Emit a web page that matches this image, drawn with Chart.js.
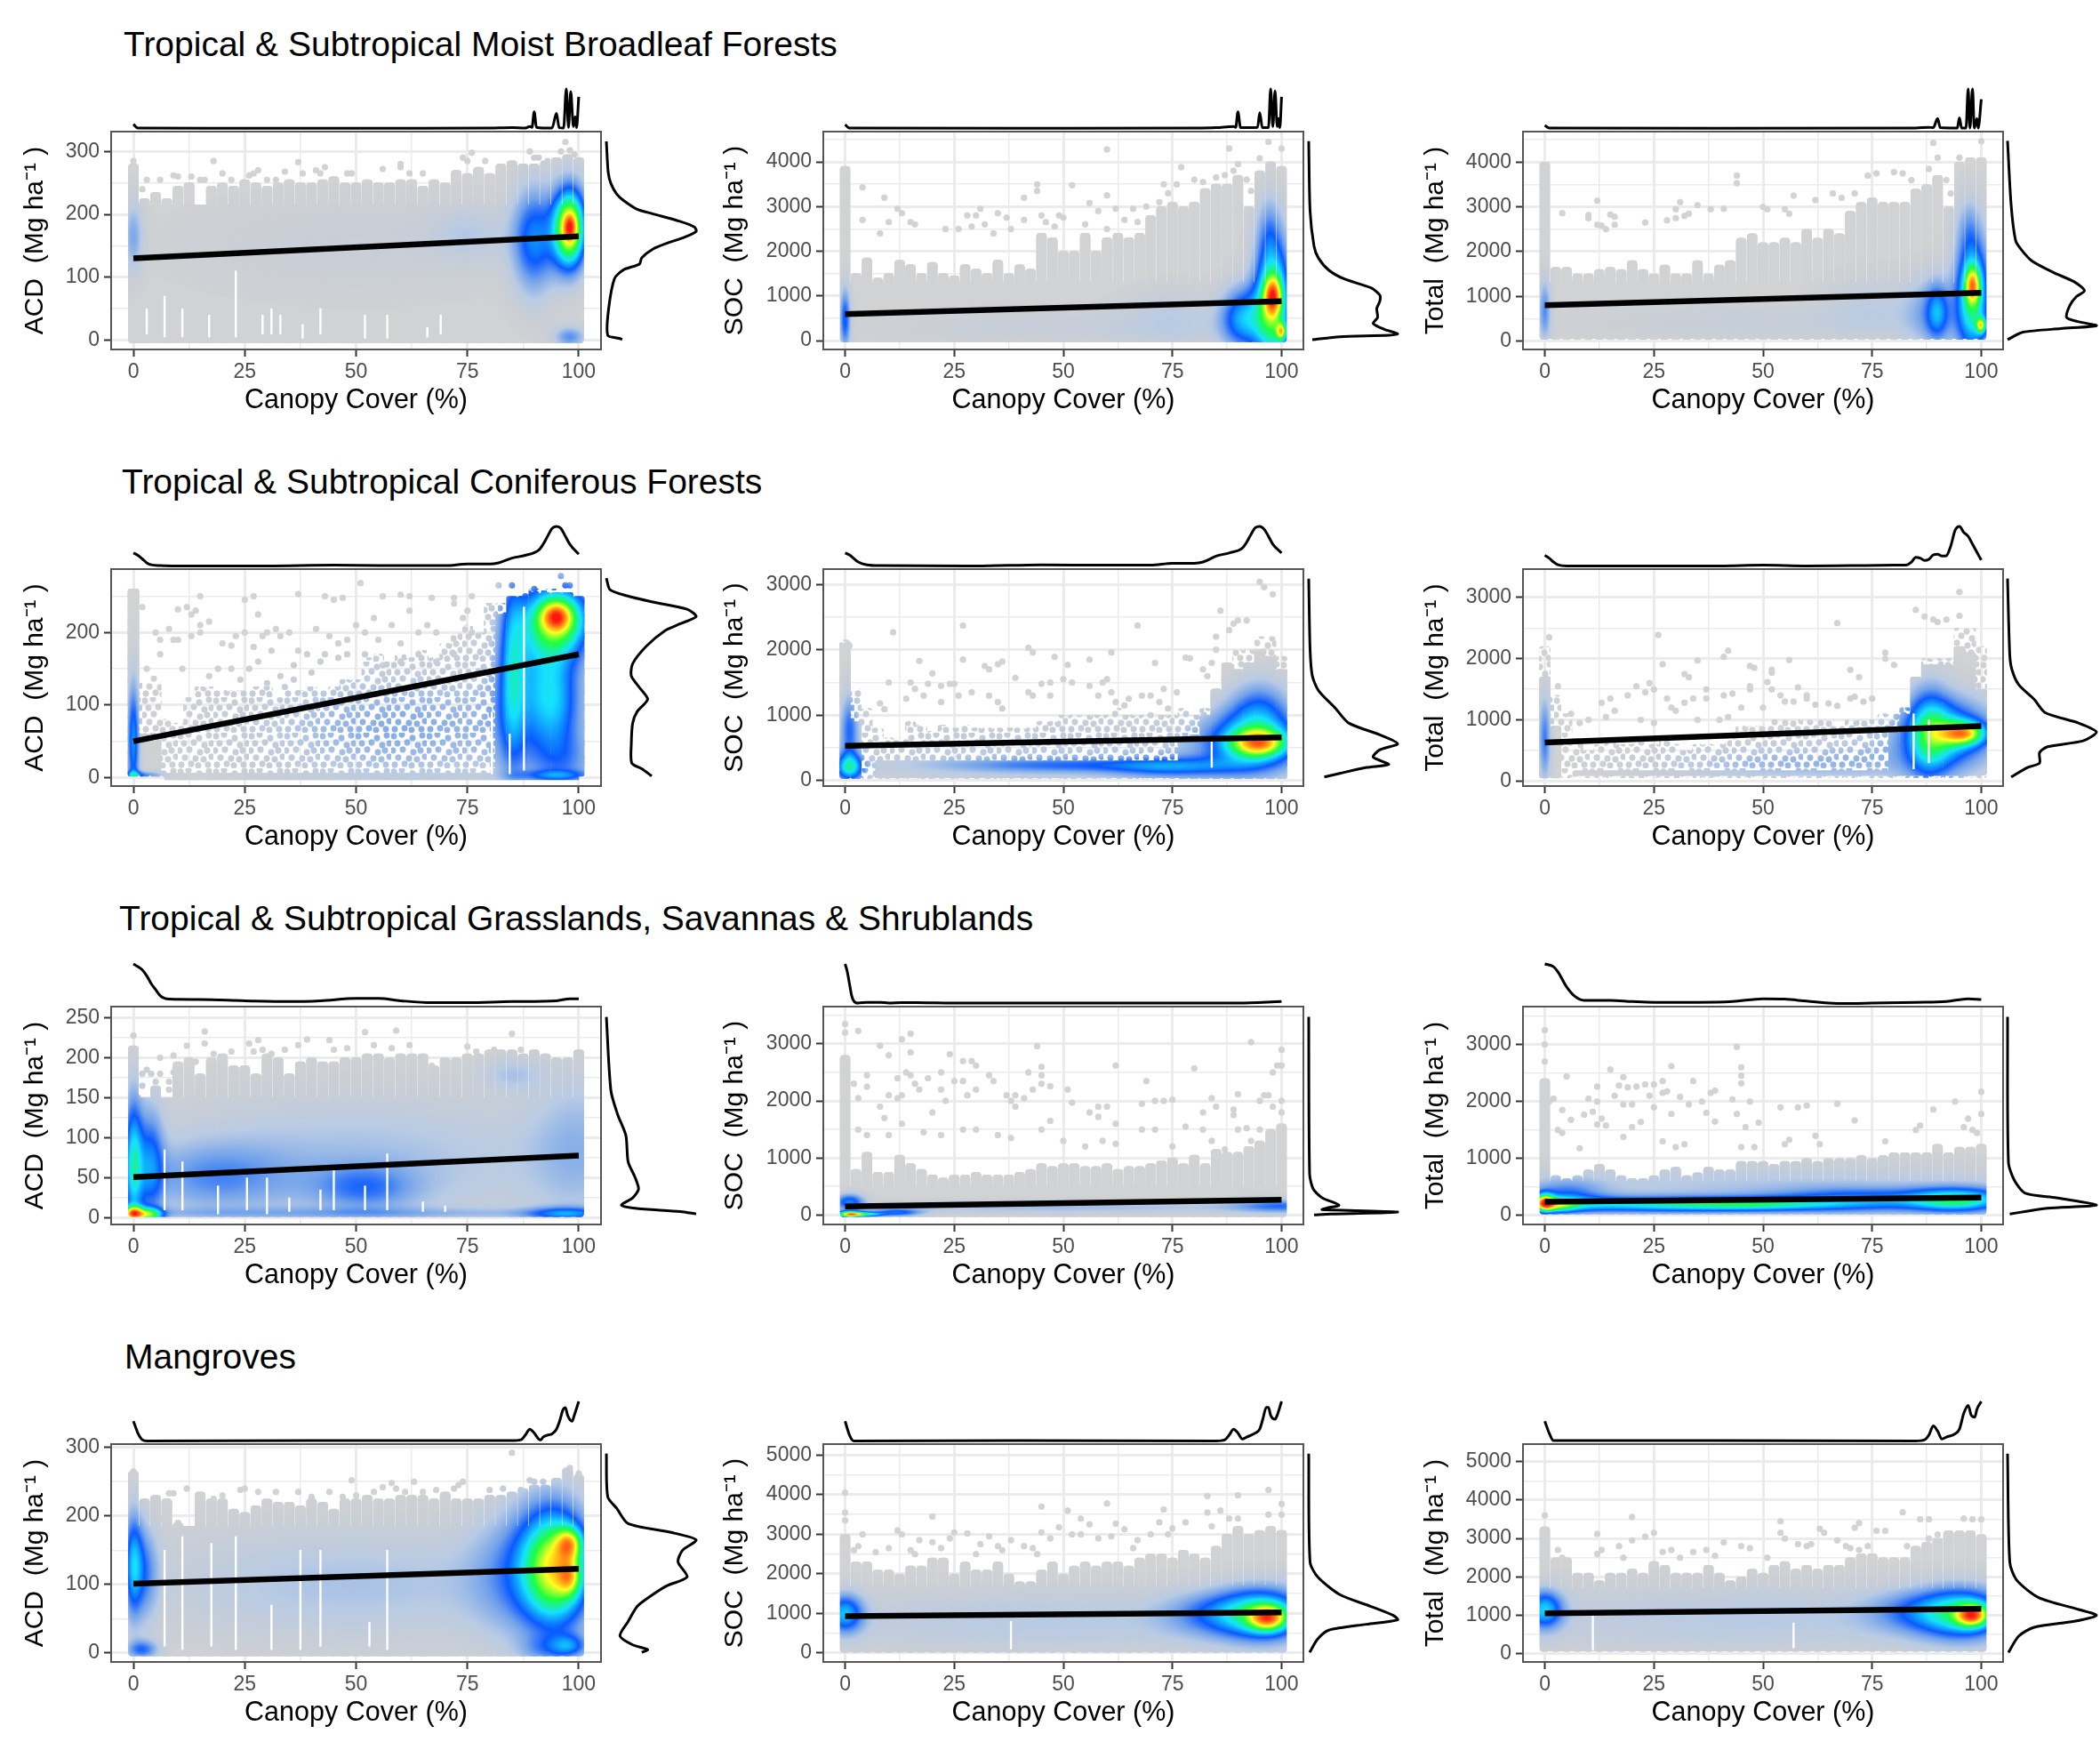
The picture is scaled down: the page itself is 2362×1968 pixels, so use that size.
<!DOCTYPE html>
<html><head><meta charset="utf-8">
<script src="https://cdn.jsdelivr.net/npm/chart.js@4"></script>
<style>
html,body{margin:0;background:#fff;width:2362px;height:1968px;overflow:hidden;position:relative}
canvas{position:absolute}
.t{position:absolute;font:39px "Liberation Sans",Arial,sans-serif;color:#000;white-space:nowrap;line-height:44px}
</style></head><body>
<script>
// ---- text
const rowTitles=["Tropical & Subtropical Moist Broadleaf Forests","Tropical & Subtropical Coniferous Forests","Tropical & Subtropical Grasslands, Savannas & Shrublands","Mangroves"];
const measureNames=["ACD","SOC","Total"];
const xTickValues=[0,25,50,75,100];
const xMinorValues=[12.5,37.5,62.5,87.5];
// ---- y ticks per panel
const yTicks1=[0,100,200,300],yTicks2=[0,1000,2000,3000,4000],yTicks3=[0,1000,2000,3000,4000];
const yTicks4=[0,100,200],yTicks5=[0,1000,2000,3000],yTicks6=[0,1000,2000,3000];
const yTicks7=[0,50,100,150,200,250],yTicks8=[0,1000,2000,3000],yTicks9=[0,1000,2000,3000];
const yTicks10=[0,100,200,300],yTicks11=[0,1000,2000,3000,4000,5000],yTicks12=[0,1000,2000,3000,4000,5000];
// ---- regression end points [y at cover 0, y at cover 100]
const fit1=[130,165],fit2=[590,880],fit3=[800,1080],fit4=[50,170],fit5=[530,660],fit6=[630,900],fit7=[51,78],fit8=[150,265],fit9=[240,315],fit10=[101,123],fit11=[930,1030],fit12=[1050,1170];
// ---- upper limit of the point columns, one per 2.5 % of cover
const tops1=[280,225,235,225,245,250,205,245,250,245,255,250,245,250,255,250,250,255,260,250,250,255,250,250,255,255,245,255,250,270,265,275,265,280,285,280,280,285,290,295,290];
const tops2=[3900,1500,1850,1400,1500,1800,1700,1500,1750,1500,1450,1700,1600,1500,1800,1500,1700,1600,2400,2300,2000,2000,2400,2000,2300,2400,2300,2400,2800,3000,3100,3000,3100,3400,3500,3500,3700,3000,3800,4000,3900];
const tops3=[4000,1650,1650,1500,1500,1600,1650,1600,1800,1600,1500,1700,1500,1500,1800,1500,1700,1800,2300,2400,2200,2200,2300,2200,2500,2300,2500,2400,2900,3100,3200,3100,3100,3100,3400,3500,3700,3000,4000,4100,4100];
const tops4=[260,130,140,80,75,110,125,125,120,120,120,125,125,110,120,120,125,120,125,135,135,165,170,160,170,165,175,165,185,200,210,200,240,240,235,250,260,260,260,255,250];
const tops5=[2150,1400,1100,800,650,650,900,850,750,850,800,850,800,800,800,800,800,800,900,900,1000,1000,1000,1000,1000,1100,1000,1000,1000,1000,1000,1100,1000,1100,1400,1800,2000,2000,2200,2200,1900];
const tops6=[2200,1400,1100,700,500,600,700,600,600,700,600,700,600,500,600,600,600,700,900,900,900,1000,1000,1000,1000,1000,1000,900,1000,1000,1000,1100,1100,1200,1500,2000,2000,2000,2500,2500,2200];
const tops7=[215,150,165,130,195,200,180,200,205,190,190,180,205,200,180,195,200,195,195,200,200,205,205,200,205,205,205,190,200,200,205,205,210,210,210,205,210,205,200,200,210];
const tops8=[2800,800,1100,750,750,1050,900,800,700,650,700,700,750,700,700,700,750,800,900,850,900,900,850,850,900,800,850,850,900,950,1000,900,1050,900,1150,1100,1100,1200,1300,1500,1600];
const tops9=[2400,700,650,700,800,900,800,700,650,650,700,800,850,700,750,850,800,800,950,950,950,900,950,950,1000,950,1000,1000,1000,1050,1000,1050,1100,1100,1100,1100,1250,1100,1200,1200,1250];
const tops10=[265,225,230,225,190,180,235,225,225,210,205,215,225,220,220,215,225,220,210,225,225,230,225,225,230,230,230,225,235,225,225,225,230,230,235,240,245,245,255,270,260];
const tops11=[3000,2300,2300,2100,2100,2000,2200,2200,2400,2400,2000,2300,2100,2100,2300,2000,1800,1800,2100,2300,2000,2200,2300,2200,2300,2300,2200,2400,2500,2500,2400,2600,2500,2400,2700,3000,3200,3000,3100,3200,3100];
const tops12=[3300,2500,2500,2100,2100,1900,2100,2100,2200,2100,2400,2300,2100,2100,2100,2300,2100,1900,2000,2200,2100,2300,2400,2200,2300,2200,2300,2300,2500,2600,2600,2500,2500,2500,2800,2900,3000,3200,3200,3200,3100];
// ---- continuous band of points [low, high]
const band1=[-4,215],band2=[-30,1300],band3=[60,1300],band4=[-3,6],band5=[40,300],band6=[90,170],band7=[0,150],band8=[-30,500],band9=[30,600],band10=[-4,185],band11=[30,1700],band12=[70,1700];
// ---- lower limit of columns
const lows=[-4,-30,40,0,30,60,0,-30,20,-4,20,60];
// ---- solid columns of the sparse row [cover, low, high]
const solid4=[[0,0,260],[2.5,0,60],[5,0,50],[82.5,0,225],[85,0,250],[87.5,0,250],[90,0,255],[92.5,0,255],[95,0,255],[97.5,0,255],[100,0,250]];
const solid5=[[0,30,2100],[2.5,30,900],[77.5,30,600],[80,30,700],[82.5,30,1000],[85,30,1400],[87.5,30,1800],[90,30,1700],[92.5,30,1800],[95,30,2000],[97.5,30,1900],[100,30,1700]];
const solid6=[[0,50,1700],[2.5,50,900],[80,100,800],[82.5,100,1100],[85,100,1700],[87.5,100,1900],[90,100,1900],[92.5,100,1900],[95,100,2200],[97.5,100,2100],[100,100,1500]];
// ---- speckle used for thinly filled columns [x, y] in a 40 px tile
const speckle=[[3,4],[12,2],[24,6],[35,3],[7,12],[18,11],[30,14],[38,12],[2,20],[13,19],[25,22],[33,20],[8,28],[20,29],[29,30],[38,27],[4,36],[15,35],[23,37],[34,36]];
// ---- isolated points above the columns [cover, value]
const dots1=[[0,285],[18,285],[76,298],[75,285],[79,285],[60,280],[60,275],[37,283],[28,270],[34,268],[41,270],[43,275],[42,265],[38,265],[3,255],[6,255],[2,240],[9,262],[10,260],[13,260],[15,255],[16,255],[20,265],[22,255],[26,262],[27,265],[30,255],[32,255],[48,265],[49,265],[56,272],[62,265],[65,265],[72,262],[74,290],[89,300],[90,290],[91,290],[93,285],[96,300],[97,315],[98,302],[99,295]];
const dots2=[[60,4280],[88,4300],[95,4080],[97,4450],[100,4300],[77,3880],[4,3430],[9,3200],[44,3500],[44,3350],[52,3480],[41,3200],[60,3250],[56,3080],[12,2950],[13,2850],[4,2700],[10,2650],[15,2650],[16,2600],[28,2800],[30,2800],[31,2950],[35,2850],[37,2750],[41,2700],[45,2800],[49,2800],[50,2750],[58,2900],[62,2950],[66,2950],[69,3000],[8,2400],[23,2500],[26,2500],[29,2550],[32,2600],[34,2400],[38,2500],[46,2650],[48,2550],[55,2600],[60,2500],[64,2700],[67,2650],[72,3100],[74,3300],[73,3500],[76,3500],[80,3600],[82,3550],[85,3650],[87,3700],[89,3800],[90,3950],[92,3600],[93,3350]];
const dots3=[[89,4430],[100,4470],[44,3700],[44,3530],[12,3140],[31,3110],[35,3040],[38,2950],[41,2960],[4,2860],[10,2820],[10,2750],[15,2830],[16,2780],[12,2600],[13,2580],[14,2500],[16,2600],[23,2650],[28,2700],[30,2750],[30,2950],[32,2800],[33,2850],[50,3000],[51,2950],[55,2950],[56,2850],[57,3250],[62,3150],[66,3300],[68,3200],[71,3300],[74,3700],[76,3750],[80,3780],[82,3750],[84,3600],[88,3850],[90,4100],[92,3600],[95,4100],[93,3300]];
const dots4=[[51,268],[15,250],[27,250],[25,245],[37,253],[43,250],[45,245],[47,248],[56,250],[60,252],[62,250],[67,248],[72,248],[76,250],[88,250],[96,278],[97,265],[98,265],[90,260],[85,265],[82,265],[2,235],[10,232],[12,235],[14,230],[13,225],[17,215],[15,210],[5,200],[6,190],[8,205],[9,190],[10,190],[13,195],[15,200],[20,185],[22,182],[25,200],[27,180],[29,195],[30,200],[31,175],[33,195],[35,200],[37,175],[39,170],[41,205],[43,170],[44,195],[46,185],[48,190],[50,210],[52,200],[54,220],[55,190],[58,210],[60,185],[62,230],[64,200],[66,210],[68,200],[72,240],[74,220],[75,230],[76,200],[3,150],[6,170],[11,150],[19,150],[22,150],[26,150],[28,160],[33,140],[36,155],[40,145],[42,160],[46,165],[48,170],[52,170],[56,155],[60,160],[64,170],[68,160],[72,170],[28,225],[32,205],[23,195],[17,140],[24,135],[30,130],[34,125],[36,135]];
const dots5=[[95,3040],[96,2960],[98,2850],[86,2600],[27,2370],[67,2370],[11,2270],[1,2060],[42,2030],[43,1960],[61,1960],[17,1830],[27,1850],[48,1890],[51,1770],[56,1850],[71,1800],[78,1880],[79,1870],[32,1750],[33,1700],[35,1780],[36,1820],[20,1640],[39,1570],[10,1500],[15,1500],[19,1480],[22,1450],[24,1480],[25,1480],[45,1480],[47,1500],[50,1550],[52,1500],[56,1450],[59,1500],[60,1550],[61,1350],[73,1400],[76,1350],[65,1250],[68,1300],[70,1300],[42,1350],[43,1300],[47,1300],[33,1300],[35,1200],[29,1350],[26,1300],[14,1250],[18,1300],[22,1200],[8,1180],[9,1090],[16,1400],[36,1100],[58,1300],[62,1200],[64,1150],[70,1000],[72,1200],[74,1100],[82,1700],[83,1600],[84,1800],[88,2300],[89,2400],[90,2450],[92,2450],[85,2000],[85,2200]];
const dots6=[[95,3090],[85,2800],[87,2690],[89,2640],[90,2600],[92,2640],[95,2700],[67,2580],[26,2390],[41,2030],[42,2130],[27,1910],[35,1970],[56,1980],[47,1880],[48,1850],[52,1820],[52,1770],[70,1820],[72,1700],[78,2100],[78,2000],[80,1900],[32,1750],[33,1700],[21,1550],[24,1600],[25,1500],[19,1400],[23,1450],[37,1500],[41,1400],[43,1430],[47,1550],[47,1500],[51,1620],[52,1500],[54,1400],[58,1530],[60,1400],[60,1350],[70,1350],[71,1380],[13,1280],[15,1350],[28,1350],[29,1200],[32,1280],[34,1350],[37,1350],[45,1200],[50,1200],[55,1300],[57,1300],[62,1250],[65,1270],[67,1230],[73,1300],[75,1350],[14,1050],[16,1150],[22,1000],[25,950],[30,1150],[35,1000],[40,1000],[42,1050],[10,1000],[8,950],[6,1100],[3,1550],[1,2350]];
const dots7=[[0,228],[16,233],[16,218],[12,215],[26,218],[28,222],[34,210],[37,216],[39,223],[44,222],[52,232],[59,234],[58,212],[54,216],[62,216],[75,214],[85,230],[81,210],[77,208],[87,210],[29,210],[27,208],[31,205],[9,203],[6,200],[14,195],[18,205],[22,208],[4,180],[2,180],[3,185],[6,180],[9,182],[8,170],[5,170],[8,160],[10,155],[2,165],[1,150],[67,190],[67,170],[90,180],[93,190],[93,165],[45,210],[48,212]];
const dots8=[[0,3350],[3,3230],[0,3200],[15,3180],[13,3080],[8,2970],[10,2800],[15,2850],[44,2960],[24,2820],[27,2700],[29,2700],[30,2620],[93,3030],[62,2620],[80,2570],[69,2350],[25,2350],[27,2350],[33,2450],[34,2350],[42,2500],[45,2600],[45,2450],[45,2300],[47,2260],[99,2620],[98,2500],[100,2620],[100,2900],[14,2500],[15,2450],[16,2300],[17,2200],[19,2400],[12,2400],[22,2200],[22,2500],[3,2050],[5,2450],[5,2250],[2,2300],[10,2100],[12,2050],[8,1900],[9,1700],[13,2100],[20,1800],[23,2000],[28,2100],[30,2200],[37,2100],[38,2000],[39,2100],[39,1900],[41,2050],[43,2200],[51,2200],[52,1970],[47,1650],[56,1800],[58,1900],[60,1900],[58,1720],[62,1600],[68,1950],[71,2000],[73,2000],[75,2020],[84,2050],[82,1800],[85,1900],[89,1850],[90,2120],[89,1750],[92,1520],[95,2000],[96,2100],[97,2100],[98,1900],[100,2000],[100,1800],[3,1500],[5,1400],[10,1400],[13,1600],[18,1450],[22,1400],[27,1500],[30,1500],[35,1400],[38,1350],[45,1500],[50,1300],[55,1200],[59,1300],[62,1250],[68,1500],[71,1500],[75,1200],[78,1550],[82,1500],[84,1300],[87,1150],[90,1500],[95,1500],[93,1300]];
const dots9=[[0,3250],[0,3000],[0,2700],[44,2960],[29,2620],[15,2560],[18,2430],[5,2440],[17,2280],[21,2260],[23,2300],[25,2300],[27,2360],[34,2360],[12,2260],[16,2100],[19,2250],[24,2100],[27,2150],[28,2180],[31,2080],[36,2000],[38,2150],[39,2190],[43,2040],[45,2600],[45,2450],[45,2320],[47,2000],[100,2170],[1,2000],[2,2050],[4,1850],[6,1680],[9,1770],[10,2050],[11,1820],[12,2000],[13,1700],[18,1950],[20,1950],[22,1640],[25,1900],[29,1780],[33,1950],[37,1800],[39,1650],[44,1780],[46,1550],[49,1630],[54,1900],[58,1900],[60,1930],[67,1960],[71,1670],[89,1860],[86,1580],[94,2000],[97,1700],[100,1780],[3,1500],[4,1450],[8,1180],[12,1600],[14,1580],[18,1380],[20,1550],[27,1300],[30,1200],[32,1250],[45,1200],[48,1200],[55,1250],[56,1330],[62,1400],[63,1250],[78,1300],[85,1500],[96,1550],[98,1500],[99,1450]];
const dots10=[[85,292],[0,265],[100,262],[98,270],[97,265],[89,252],[92,250],[95,250],[49,252],[58,248],[63,250],[59,240],[56,242],[54,235],[74,250],[73,245],[72,240],[68,238],[65,235],[61,235],[25,240],[24,238],[28,235],[32,235],[37,235],[8,233],[9,233],[12,240],[44,235],[40,228],[47,228],[50,230],[5,210],[7,220],[18,225],[20,230],[80,238],[83,240],[87,238],[90,250],[93,240],[10,190],[6,195]];
const dots11=[[0,4050],[97,4120],[90,3990],[83,3970],[60,3780],[45,3700],[51,3600],[73,3630],[20,3450],[0,3550],[0,3350],[83,3550],[86,3600],[88,3400],[90,3400],[97,3500],[100,3770],[100,3500],[54,3400],[56,3250],[49,3180],[62,3270],[64,3130],[72,3300],[75,3150],[78,3300],[84,3200],[12,3100],[13,3000],[25,3050],[28,3020],[33,2950],[38,2850],[41,2700],[4,3000],[17,2850],[20,2800],[22,2650],[31,2750],[24,2900],[45,3050],[47,2900],[52,3000],[54,3000],[58,2900],[61,2950],[67,2850],[70,3000],[74,3000],[2,2600],[3,2700],[7,2550],[10,2650],[15,2600],[16,2500],[30,2500],[35,2700],[36,2600],[43,2650],[44,2500],[66,2650]];
const dots12=[[0,3600],[20,3560],[82,3680],[54,3450],[72,3400],[71,3280],[76,3200],[78,3200],[86,3500],[88,3500],[96,3520],[98,3500],[100,3500],[54,3150],[55,3000],[63,3250],[64,3150],[67,2950],[12,3120],[20,2950],[23,3050],[25,3150],[41,2900],[12,2600],[13,2700],[17,2800],[18,2500],[27,2650],[29,2700],[31,2500],[34,2650],[37,2700],[39,2550],[45,2800],[47,2750],[51,2500],[58,2850],[60,2800],[61,2850],[69,2800],[70,2750],[72,2700],[74,2800],[3,2700],[4,2500],[0,3200],[83,2800],[88,3000],[90,3100]];
// ---- empty slits among the points [cover, low, high]
const slits1=[[3,10,50],[7,5,70],[11,5,50],[17,5,40],[23,5,110],[29,10,40],[31,10,50],[33,10,40],[38,3,25],[42,10,50],[52,3,40],[57,3,40],[66,5,20],[69,10,40]];
const slits2=[];
const slits3=[];
const slits4=[[87.7,10,235],[80.5,5,90],[84.5,5,60]];
const slits5=[[84,200,600]];
const slits6=[[84.5,200,1100],[88,300,1000]];
const slits7=[[7,10,85],[11,10,70],[19,5,40],[25.5,10,50],[30,5,50],[35,8,25],[42,10,35],[45,10,60],[52,10,40],[57,10,80],[65,8,20],[70,8,15]];
const slits8=[];
const slits9=[];
const slits10=[[7,10,150],[11,5,170],[17.5,10,160],[23,5,170],[31,5,70],[37.5,5,150],[42,10,150],[53,10,45],[57,5,150]];
const slits11=[[38,100,800]];
const slits12=[[11,100,1100],[57,150,800]];
// ---- density blobs [cover, value, spread in cover, spread in value, level]
const blobs1=[[0,165,1.5,40,.17],[50,150,30,60,.04],[75,170,6,30,.08],[90,160,3.5,60,.33],[98,178,2.6,45,.8],[98,180,.9,13,.2],[98,5,2.5,12,.22]];
const blobs2=[[0,500,.9,500,.3],[50,300,30,300,.05],[75,500,8,500,.07],[91,500,3.5,500,.36],[98,800,3,1050,.6],[98,1000,1.4,300,.4],[100,200,.8,130,.4],[97,2500,2,600,.12]];
const blobs3=[[0,700,1,500,.22],[50,400,30,300,.05],[75,800,8,500,.07],[88,650,4,600,.15],[90,650,1.8,450,.25],[98,1000,2.8,950,.55],[98,1250,1.2,280,.38],[100,350,.8,120,.45],[97,2600,2,500,.1]];
const blobs4=[[60,70,25,60,.17],[0,50,1,60,.35],[0,3,1.5,5,.15],[3,3,3,4,.2],[85,150,2,100,.25],[90,150,6,90,.25],[95,105,4,45,.22],[96,215,5.5,38,.45],[95,222,4,22,.2],[95,222,2,12,.25],[95,3,6,5,.18],[97,20,5,30,.15]];
const blobs5=[[50,400,40,400,.1],[1,200,2.5,150,.4],[1,800,1.5,400,.25],[50,230,20,80,.18],[75,200,10,120,.22],[95,1100,5,350,.22],[93,600,8,350,.38],[95,570,4.5,150,.45]];
const blobs6=[[50,300,20,200,.13],[80,500,15,500,.1],[0,700,1,500,.25],[88,800,3.5,550,.3],[93,800,7,400,.36],[96,780,3.5,130,.5]];
const blobs7=[[50,70,35,60,.13],[18,50,12,30,.16],[52,37,8,20,.17],[50,6,50,5,.1],[0,70,1.5,60,.4],[4,70,2,50,.25],[0,5,1.8,7,.6],[4,4,2,6,.4],[97,5,6,6,.25],[100,90,8,70,.12],[85,180,5,15,.1]];
const blobs8=[[50,130,40,80,.13],[100,160,8,90,.22],[1,240,2.5,100,.32],[12,40,4,50,.28],[1,10,2,40,.75],[5,10,2.5,30,.4]];
const blobs9=[[50,500,50,300,.11],[5,350,6,200,.2],[25,190,22,100,.4],[48,200,12,80,.22],[72,260,14,150,.28],[95,270,8,150,.46],[0,230,1.5,110,.55],[3,180,3,90,.3]];
const blobs10=[[50,100,35,60,.12],[85,120,7,70,.15],[0,130,1.5,55,.35],[3,120,2,50,.18],[2,5,2.5,10,.25],[98,10,3,12,.24],[92,5,4,15,.12],[92,130,5,65,.22],[96,125,5,60,.5],[98,110,1.8,18,.25],[98,160,2,16,.35]];
const blobs11=[[50,800,50,600,.1],[0,1000,3,350,.36],[85,1000,8,400,.2],[96,1000,7,480,.42],[97,880,3,220,.45]];
const blobs12=[[50,900,50,650,.1],[0,1150,3,360,.38],[85,1100,8,400,.18],[96,1050,7,480,.42],[98,1000,2.5,200,.5]];
// ---- top marginal curves [cover, relative density]
const top1=[[0,.11],[1,.01],[20,.005],[40,.005],[60,.005],[80,.01],[85,.02],[88,.01],[89,.05],[89.5,.03],[90,.42],[90.5,.03],[94,.01],[95,.38],[95.6,.02],[96.6,.01],[97.2,1],[97.7,.03],[98.2,.93],[98.8,.05],[99.2,.3],[99.5,.02],[100,.8]];
const top2=[[0,.1],[1,.01],[40,.005],[80,.01],[85,.02],[89,.05],[89.5,.03],[90,.42],[90.6,.02],[94.5,.03],[95,.4],[95.6,.02],[97,.02],[97.5,1],[98,.05],[98.5,.95],[99,.05],[99.3,.25],[99.6,.02],[100,.8]];
const top3=[[0,.08],[1,.01],[40,.005],[85,.01],[88,.03],[89,.02],[90,.25],[90.6,.02],[94.5,.01],[95,.27],[95.5,.01],[96.5,.01],[97,1],[97.4,.01],[98,1],[98.4,.01],[99,.25],[99.3,.01],[100,.74]];
const top4=[[0,.33],[1,.27],[2,.18],[3,.08],[4,.03],[6,.01],[10,0],[30,0],[45,.02],[55,.01],[70,.01],[75,.05],[80,.05],[82,.08],[85,.2],[88,.27],[91,.4],[92,.55],[93,.75],[94,.95],[95,1],[96,.95],[97,.75],[98,.55],[100,.3]];
const top5=[[0,.33],[1,.28],[3,.1],[5,.03],[8,.01],[30,0],[45,.03],[60,.02],[70,.02],[75,.07],[80,.07],[82,.1],[85,.25],[88,.33],[91,.45],[92,.6],[93,.8],[94,.97],[95,1],[96,.93],[97,.75],[98,.55],[100,.33]];
const top6=[[0,.27],[1,.2],[2,.1],[3,.03],[5,0],[40,0],[50,.02],[60,0],[70,.01],[80,.02],[83,.03],[84,.1],[85,.22],[86,.2],[87,.14],[88,.17],[89,.28],[90,.3],[91,.25],[92,.26],[93,.5],[94,.9],[95,1],[96,.85],[97,.75],[98,.55],[99,.35],[100,.15]];
const top7=[[0,1],[1,.93],[2,.85],[3,.7],[4,.5],[5,.35],[6,.2],[7,.13],[8,.11],[15,.1],[25,.07],[35,.05],[42,.07],[50,.13],[55,.13],[60,.07],[67,.02],[75,.02],[85,.05],[95,.07],[98,.12],[100,.12]];
const top8=[[0,1],[.5,.8],[1,.5],[1.5,.2],[2,.06],[3,.01],[5,.03],[8,.03],[10,.01],[13,.02],[16,.02],[25,.01],[60,.01],[90,.01],[100,.05]];
const top9=[[0,1],[2,.93],[3,.8],[5,.42],[7,.17],[9,.08],[15,.08],[20,.05],[25,.03],[35,.03],[43,.05],[50,.12],[55,.11],[60,.06],[67,0],[75,.01],[85,.03],[92,.05],[97,.12],[100,.1]];
const top10=[[0,.5],[.5,.35],[1,.2],[2,.03],[3,0],[40,.01],[85,.01],[87,.03],[88,.15],[89,.3],[90,.2],[91,.05],[91.5,.03],[92,.1],[93,.15],[94,.18],[95,.3],[95.7,.5],[96.5,.8],[97,.84],[97.5,.65],[98.5,.5],[99,.65],[100,1]];
const top11=[[0,.5],[1,.15],[2,0],[40,.01],[85,0],[87,.03],[88,.15],[89,.3],[90,.2],[91,.05],[92,.1],[94,.2],[95,.3],[95.7,.55],[96.5,.85],[97,.85],[97.5,.65],[98.5,.55],[99,.65],[100,1]];
const top12=[[0,.5],[1,.2],[2,.01],[40,.01],[85,0],[87,.03],[88,.15],[89,.38],[90,.25],[91,.05],[92,.1],[94,.18],[95,.3],[96,.7],[97,.9],[97.7,.65],[98.5,.6],[99,.8],[100,1]];
// ---- right marginal curves [value, relative density]
const side1=[[316,.01],[267,.03],[249,.06],[232,.125],[222,.2],[208,.35],[201,.52],[189,.82],[180,.98],[173,1],[164,.875],[154,.675],[145,.525],[131,.4],[121,.375],[112,.2],[98,.1],[50,.035],[8,.025],[3,.15],[1,.185]];
const side2=[[4463,0],[2905,.015],[2109,.06],[1844,.11],[1578,.225],[1379,.4],[1180,.7],[1015,.8],[882,.8],[716,.765],[517,.775],[385,.725],[252,.85],[153,1],[119,.9],[86,.35],[20,.04]];
const side3=[[4476,0],[3050,.04],[2255,.09],[2056,.15],[1790,.275],[1525,.525],[1326,.75],[1127,.865],[995,.775],[796,.7],[530,.665],[431,.8],[345,1],[279,.6],[199,.175],[33,0]];
const side4=[[275,.01],[259,.05],[251,.225],[242,.525],[232,.9],[222,1],[212,.825],[202,.65],[181,.45],[157,.3],[140,.285],[124,.375],[108,.465],[91,.35],[75,.3],[47,.285],[20,.29],[12,.4],[2,.51]];
const side5=[[3090,0],[2012,.015],[1604,.04],[1377,.11],[1106,.3],[879,.45],[698,.8],[562,1],[471,.8],[358,.725],[245,.9],[199,.65],[109,.35],[54,.175]];
const side6=[[3309,0],[2061,.025],[1819,.05],[1577,.125],[1335,.3],[1118,.425],[948,.8],[803,1],[658,.85],[561,.45],[464,.36],[295,.36],[223,.225],[68,.04]];
const side7=[[251,.01],[159,.06],[129,.135],[103,.225],[70,.25],[51,.325],[36,.365],[25,.3],[16,.175],[12,.325],[8,.825],[5,1]];
const side8=[[3474,0],[718,.01],[458,.05],[302,.15],[172,.34],[120,.2],[94,.15],[52,1],[16,.25],[0,.06]];
const side9=[[3484,0],[936,.01],[624,.075],[390,.2],[312,.55],[182,1],[130,.45],[78,.225],[26,.025]];
const side10=[[291,.01],[228,.025],[211,.125],[189,.25],[176,.725],[165,1],[150,.85],[133,.8],[111,.9],[98,.675],[81,.475],[68,.35],[46,.25],[25,.16],[12,.3],[5,.465],[1,.4]];
const side11=[[5037,0],[2301,.015],[1926,.1],[1477,.35],[1177,.7],[952,.95],[840,1],[727,.65],[577,.225],[352,.1],[15,.01]];
const side12=[[5209,0],[2388,.025],[1924,.1],[1461,.35],[1151,.8],[997,1],[842,.75],[688,.3],[456,.125],[31,.01]];

// ---- panel table
const yTicks=[yTicks1,yTicks2,yTicks3,yTicks4,yTicks5,yTicks6,yTicks7,yTicks8,yTicks9,yTicks10,yTicks11,yTicks12];
const fits=[fit1,fit2,fit3,fit4,fit5,fit6,fit7,fit8,fit9,fit10,fit11,fit12];
const tops=[tops1,tops2,tops3,tops4,tops5,tops6,tops7,tops8,tops9,tops10,tops11,tops12];
const bands=[band1,band2,band3,band4,band5,band6,band7,band8,band9,band10,band11,band12];
const dots=[dots1,dots2,dots3,dots4,dots5,dots6,dots7,dots8,dots9,dots10,dots11,dots12];
const slits=[slits1,slits2,slits3,slits4,slits5,slits6,slits7,slits8,slits9,slits10,slits11,slits12];
const blobs=[blobs1,blobs2,blobs3,blobs4,blobs5,blobs6,blobs7,blobs8,blobs9,blobs10,blobs11,blobs12];
const solids={3:solid4,4:solid5,5:solid6};
const topCurves=[top1,top2,top3,top4,top5,top6,top7,top8,top9,top10,top11,top12];
const sideCurves=[side1,side2,side3,side4,side5,side6,side7,side8,side9,side10,side11,side12];
const yRanges=[[-14.7,331.5],[-199,4677],[-187,4683],[-11.8,287.4],[-86,3235],[-81,3464],[-8.2,264],[-167,3655],[-156,3664],[-13,304.8],[-225,5279],[-216,5458]];

// ---- layout (reference pixels)
const colBox=[{l:125,w:551,cell:0,titlePad:22,sx:679,sw:102},{l:926,w:540,cell:801,titlePad:8,sx:1470,sw:100},{l:1713,w:540,cell:1588,titlePad:9,sx:2256,sw:100}];
const rowBox=[{t:147.7,b:392.7},{t:640,b:884.3},{t:1131.7,b:1376.7},{t:1624.3,b:1869}];
const titlePos=[[139,28],[137,520],[134,1011],[140,1504]];
const L=125,B=80,PAD=16;
const FONT='"Liberation Sans",Arial,sans-serif';
const GRAY='#d1d2d3',DOT='rgba(209,210,211,.85)';
const stops=[[0,190,200,215],[.1,185,203,228],[.2,110,160,235],[.3,10,90,255],[.45,20,225,255],[.6,30,255,60],[.75,255,255,30],[.87,255,140,20],[1,255,20,20]];
function cmap(v){v=Math.min(1,v);for(let i=1;i<stops.length;i++){if(v<=stops[i][0]){const a=stops[i-1],b=stops[i],f=(v-a[0])/(b[0]-a[0]);return [a[1]+f*(b[1]-a[1]),a[2]+f*(b[2]-a[2]),a[3]+f*(b[3]-a[3])];}}return stops[8].slice(1);}

function fieldCanvas(chart,spec){
  const A=chart.chartArea,w=Math.round(A.right-A.left),h=Math.round(A.bottom-A.top),X=chart.scales.x,Y=chart.scales.y;
  const gx=spec.map(b=>{const a=new Float32Array(w);for(let i=0;i<w;i++){const d=(X.getValueForPixel(A.left+i+.5)-b[0])/b[2];a[i]=Math.exp(-.5*d*d);}return a;});
  const gy=spec.map(b=>{const a=new Float32Array(h);for(let j=0;j<h;j++){const d=(Y.getValueForPixel(A.top+j+.5)-b[1])/b[3];a[j]=b[4]*Math.exp(-.5*d*d);}return a;});
  const c=document.createElement('canvas');c.width=w;c.height=h;const cx=c.getContext('2d'),im=cx.createImageData(w,h);
  for(let j=0;j<h;j++)for(let i=0;i<w;i++){let s=0;for(let k=0;k<spec.length;k++)s+=gx[k][i]*gy[k][j];
    if(s<.01)continue;const col=cmap(s),o=(j*w+i)*4;im.data[o]=col[0];im.data[o+1]=col[1];im.data[o+2]=col[2];im.data[o+3]=255*Math.min(1,s/.1);}
  cx.putImageData(im,0,0);return c;
}
const densityPlugin={id:'density',beforeDatasetDraw(chart,args){
  const ds=chart.data.datasets[args.index];if(!ds.densityLayer)return;
  const A=chart.chartArea,off=document.createElement('canvas');off.width=chart.width;off.height=chart.height;const o=off.getContext('2d');
  chart.data.datasets.forEach((d,i)=>{if(d.pointLayer){chart.getDatasetMeta(i).data.forEach(el=>el.draw(o,A));}});
  o.globalCompositeOperation='source-atop';
  o.drawImage(fieldCanvas(chart,ds.data.map(p=>p.spec)),A.left,A.top,A.right-A.left,A.bottom-A.top);
  const ctx=chart.ctx;ctx.save();ctx.beginPath();ctx.rect(A.left,A.top,A.right-A.left,A.bottom-A.top);ctx.clip();ctx.drawImage(off,0,0);ctx.restore();
}};
const borderPlugin={id:'frame',afterDraw(chart){const A=chart.chartArea,c=chart.ctx;c.save();c.strokeStyle='#555';c.lineWidth=2;c.strokeRect(A.left,A.top,A.right-A.left,A.bottom-A.top);c.restore();}};

function canvasAt(x,y,w,h){const c=document.createElement('canvas');c.style.left=x+'px';c.style.top=y+'px';c.style.width=w+'px';c.style.height=h+'px';c.width=w;c.height=h;document.body.appendChild(c);return c;}
const quiet={animation:false,responsive:false,devicePixelRatio:1,events:[],plugins:{legend:{display:false},tooltip:{enabled:false},title:{display:false}}};
let speckFill=null;
function speckPattern(){if(speckFill)return speckFill;const t=document.createElement('canvas');t.width=40;t.height=40;const x=t.getContext('2d');x.fillStyle=GRAY;
  speckle.forEach(s=>{x.beginPath();x.arc(s[0],s[1],3.4,0,7);x.fill();});speckFill=x.createPattern(t,'repeat');return speckFill;}

function mainChart(p,r,c){
  const C=colBox[c],R=rowBox[r],H=R.b-R.t,sparse=r===1;
  const unit=C.w/110;
  const W=L+C.w+PAD,HH=Math.round(PAD+H+B);
  const cv=canvasAt(C.cell,Math.round(R.t)-PAD,W,HH);
  const major=yTicks[p],step=major[1]-major[0],minor=major.map(v=>v+step/2);
  const ds=[];
  ds.push({type:'line',label:'fit',order:0,data:[{x:0,y:fits[p][0]},{x:100,y:fits[p][1]}],borderColor:'#000',borderWidth:6.5,pointRadius:0,tension:0,borderCapStyle:'butt'});
  ds.push({type:'bar',label:'gaps',order:1,grouped:false,barThickness:unit*.35,data:slits[p].map(s=>({x:s[0],y:[s[1],s[2]]})),backgroundColor:'#fff',borderWidth:0});
  ds.push({type:'scatter',label:'density',order:2,densityLayer:true,pointRadius:0,data:blobs[p].map(b=>({x:b[0],y:b[1],spec:b}))});
  ds.push({type:'scatter',label:'points',order:3,pointLayer:true,pointRadius:3.5,borderWidth:0,backgroundColor:DOT,data:dots[p].map(d=>({x:d[0],y:d[1]}))});
  ds.push({type:'bar',label:'columns',order:4,pointLayer:true,grouped:false,barThickness:unit*(sparse?2.4:2.25),borderRadius:sparse?3:4,borderSkipped:false,backgroundColor:sparse?speckPattern():GRAY,borderWidth:0,data:tops[p].map((t,i)=>({x:i*2.5,y:[lows[p],t]}))});
  ds.push({type:'bar',label:'band',order:5,pointLayer:true,grouped:false,barThickness:unit*(sparse?93:101.4),backgroundColor:GRAY,borderWidth:0,data:[{x:sparse?53.5:50,y:bands[p]}]});
  if(solids[p])ds.push({type:'bar',label:'solid',order:6,pointLayer:true,grouped:false,barThickness:unit*2.42,borderRadius:3,borderSkipped:false,backgroundColor:GRAY,borderWidth:0,data:solids[p].map(s=>({x:s[0],y:[s[1],s[2]]}))});
  new Chart(cv,{type:'scatter',data:{datasets:ds},plugins:[densityPlugin,borderPlugin],options:{...quiet,
    layout:{autoPadding:false,padding:{top:PAD,right:PAD,left:0,bottom:0}},
    scales:{
      x:{type:'linear',min:-5,max:105,offset:false,afterFit(s){s.height=B;s.paddingLeft=0;s.paddingRight=0;},
        afterBuildTicks(s){s.ticks=xTickValues.concat(xMinorValues).map(v=>({value:v}));},
        grid:{offset:false,color:'#ebebeb',lineWidth:k=>xTickValues.includes(k.tick.value)?3:1.5,tickColor:k=>xTickValues.includes(k.tick.value)?'#333':'rgba(0,0,0,0)',tickWidth:k=>xTickValues.includes(k.tick.value)?2:0,tickLength:8},
        border:{display:false},
        ticks:{autoSkip:false,maxRotation:0,padding:4,color:'#4d4d4d',font:{family:FONT,size:23},callback:v=>xTickValues.includes(v)?String(v):''},
        title:{display:true,text:'Canopy Cover (%)',color:'#000',font:{family:FONT,size:30.5},padding:{top:0,bottom:4}}},
      y:{type:'linear',min:yRanges[p][0],max:yRanges[p][1],afterFit(s){s.width=L;s.paddingTop=0;s.paddingBottom=0;},
        afterBuildTicks(s){s.ticks=major.concat(minor).filter(v=>v<yRanges[p][1]).map(v=>({value:v}));},
        grid:{color:'#ebebeb',lineWidth:k=>major.includes(k.tick.value)?3:1.5,tickColor:k=>major.includes(k.tick.value)?'#333':'rgba(0,0,0,0)',tickWidth:k=>major.includes(k.tick.value)?2:0,tickLength:8},
        border:{display:false},
        ticks:{autoSkip:false,padding:5,color:'#4d4d4d',font:{family:FONT,size:23},callback:v=>major.includes(v)?String(v):''},
        title:{display:true,text:measureNames[c]+'  (Mg ha\u207B\u00B9 )',color:'#000',font:{family:FONT,size:30},padding:{top:C.titlePad,bottom:0}}}
    }}});
}
function topChart(p,r,c){
  const C=colBox[c],R=rowBox[r],H=52,cv=canvasAt(C.l,Math.round(R.t)-H,C.w,H);
  new Chart(cv,{type:'line',data:{datasets:[{data:topCurves[p].map(a=>({x:a[0],y:a[1]})),borderColor:'#000',borderWidth:3,pointRadius:0,cubicInterpolationMode:'monotone',clip:false}]},
    options:{...quiet,layout:{autoPadding:false,padding:0},scales:{x:{type:'linear',min:-5,max:105,display:false},y:{type:'linear',min:-.0787,max:1.0899,display:false}}}});
}
function sideChart(p,r,c){
  const C=colBox[c],R=rowBox[r],W=106,H=Math.round(R.b-R.t),cv=canvasAt(C.sx,Math.round(R.t),W,H);
  new Chart(cv,{type:'scatter',data:{datasets:[{data:sideCurves[p].map(a=>({x:a[1],y:a[0]})),showLine:true,borderColor:'#000',borderWidth:3,pointRadius:0,tension:.25,clip:false}]},
    options:{...quiet,layout:{autoPadding:false,padding:0},scales:{x:{type:'linear',min:-2/C.sw,max:(W-2)/C.sw,display:false},y:{type:'linear',min:yRanges[p][0],max:yRanges[p][1],display:false}}}});
}
rowTitles.forEach((t,r)=>{const d=document.createElement('div');d.className='t';d.textContent=t;d.style.left=titlePos[r][0]+'px';d.style.top=titlePos[r][1]+'px';document.body.appendChild(d);
  for(let c=0;c<3;c++){const p=r*3+c;mainChart(p,r,c);topChart(p,r,c);sideChart(p,r,c);}});
</script>
</body></html>
